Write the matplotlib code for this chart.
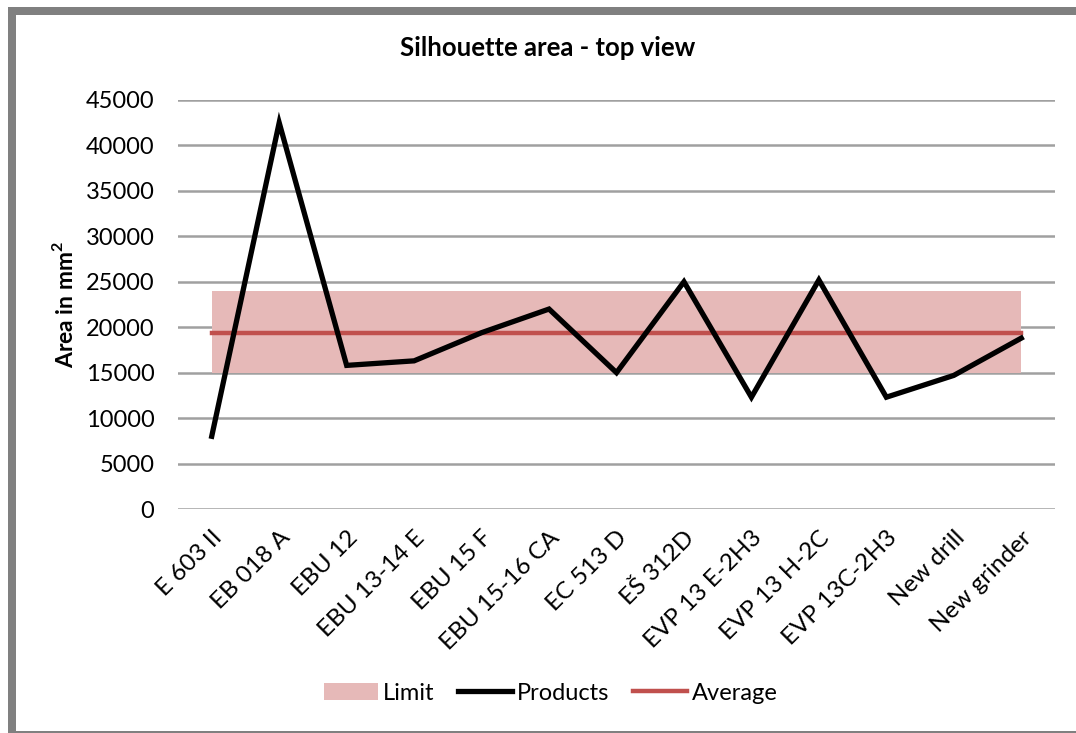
import matplotlib
matplotlib.use("Agg")
import matplotlib.pyplot as plt
from matplotlib.patches import Rectangle, Patch
from matplotlib.lines import Line2D

plt.rcParams['font.family'] = ['Lato', 'DejaVu Sans']

categories = ["E 603 II", "EB 018 A", "EBU 12", "EBU 13-14 E", "EBU 15 F",
              "EBU 15-16 CA", "EC 513 D", "EŠ 312D", "EVP 13 E-2H3",
              "EVP 13 H-2C", "EVP 13C-2H3", "New drill", "New grinder"]
products = [8000, 42500, 15800, 16300, 19400, 22000, 15000, 25000, 12300,
            25200, 12300, 14700, 18800]
limit_low = [15000] * 13
limit_high = [24000] * 13
average = [19400] * 13
yticks = list(range(0, 45001, 5000))

fig = plt.figure(figsize=(10.76, 7.33), dpi=100)
ax = fig.add_axes([178/1076, 1 - 509/733, (1055-178)/1076, (509-100)/733])

x = list(range(len(categories)))
ax.fill_between(x, limit_low, limit_high, color="#E6B9B8", linewidth=0, zorder=2)
ax.plot(x, products, color="black", linewidth=3.8, zorder=4, solid_joinstyle="miter")
ax.plot(x, average, color="#C0504D", linewidth=3.2, zorder=3)

ax.set_xlim(-0.5, len(categories) - 0.5)
ax.set_ylim(0, 45000)
ax.set_yticks(yticks)
ax.set_yticklabels([str(v) for v in yticks], fontsize=17)
ax.set_xticks(x)
ax.set_xticklabels(categories, rotation=45, ha="right", rotation_mode="anchor", fontsize=17.5)
ax.tick_params(axis="both", length=0)
ax.tick_params(axis="y", pad=17)
ax.tick_params(axis="x", pad=13)
ax.grid(axis="y", color="#A0A0A0", linewidth=1.8, zorder=1)
ax.set_axisbelow(True)
for s in ax.spines.values():
    s.set_visible(False)

ax.set_ylabel("Area in mm$^\\mathregular{2}$", fontsize=16.5, fontweight="bold", labelpad=6)
fig.text(548/1076, 1 - 48/733, "Silhouette area - top view", ha="center", va="center",
         fontsize=18.5, fontweight="bold")

handles = [Patch(facecolor="#E6B9B8", edgecolor="none"),
           Line2D([0], [0], color="black", linewidth=3.8),
           Line2D([0], [0], color="#C0504D", linewidth=3.2)]
fig.legend(handles, ["Limit", "Products", "Average"], loc="center",
           bbox_to_anchor=(551/1076, 1 - 693/733), ncol=3, frameon=False,
           fontsize=17, handlelength=2.3, handletextpad=0.2, columnspacing=1.0)

# outer frame (gray, thick at top/left)
fig.patches.append(Rectangle((8/1076, 0), 8/1076, 1 - 7/733, transform=fig.transFigure,
                             facecolor="#808080", edgecolor="none"))
fig.patches.append(Rectangle((8/1076, 1 - 15/733), 1, 8/733, transform=fig.transFigure,
                             facecolor="#808080", edgecolor="none"))
fig.patches.append(Rectangle((8/1076, 0), 1, 2/733, transform=fig.transFigure,
                             facecolor="#808080", edgecolor="none"))

fig.savefig("out.png", dpi=100)
